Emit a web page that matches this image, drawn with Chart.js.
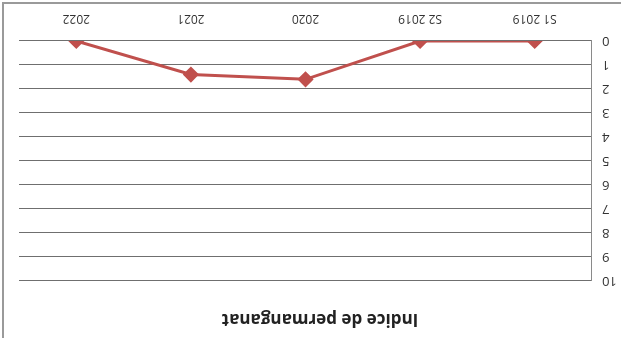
<!DOCTYPE html>
<html>
<head>
<meta charset="utf-8">
<script src="https://cdn.jsdelivr.net/npm/chart.js@4/dist/chart.umd.min.js"></script>
<style>
	html, body { margin: 0; padding: 0; background: #fff; }
	#wrap { position: relative; width: 621px; height: 338px; overflow: hidden; }
	/* the sheet is scanned upside down */
	#box { position: absolute; left: 0; top: 0; width: 621px; height: 338px; transform: rotate(180deg); }
	#frame { position: absolute; left: 2px; top: 2px; width: 619px; height: 336px;
		border-top: 2px solid #9a9a9a; border-left: 2px solid #9a9a9a; pointer-events: none; }
</style>
</head>
<body>
<div id="wrap">
	<div id="box"><canvas id="grafic" width="621" height="338"></canvas></div>
	<div id="frame"></div>
</div>
<script>
// Dades
const periodes = ["S1 2019", "S2 2019", "2020", "2021", "2022"];
const permanganat = [0, 0, 1.6, 1.4, 0];
const titol = "Indice de permanganat";

const FONT = "'Open Sans', 'Liberation Sans', sans-serif";

const ctx = document.getElementById("grafic").getContext("2d");
new Chart(ctx, {
	type: "line",
	data: {
		labels: periodes,
		datasets: [
			{
				data: permanganat,
				borderColor: "#c0504d",
				backgroundColor: "#c0504d",
				borderWidth: 3,
				pointStyle: "rectRot",
				pointRadius: 6,
				tension: 0
			}
		]
	},
	options: {
		responsive: false,
		animation: false,
		layout: { padding: { top: 0, right: 19, bottom: 0, left: 0 } },
		plugins: {
			legend: { display: false },
			tooltip: { enabled: false },
			title: {
				display: true,
				text: titol,
				color: "#222",
				font: { family: FONT, size: 17, weight: "bold", lineHeight: 1.2 },
				padding: { top: 9, bottom: 28 }
			}
		},
		scales: {
			x: {
				offset: true,
				grid: { display: false, drawTicks: false },
				border: { display: false },
				ticks: { color: "#333", font: { family: FONT, size: 12 }, padding: 15, maxRotation: 0 },
				afterFit: (s) => { s.height = 41; }
			},
			y: {
				min: 0,
				max: 10,
				ticks: { stepSize: 1, color: "#333", font: { family: FONT, size: 13 }, padding: 10 },
				grid: { color: "#6f6f6f", lineWidth: 1, drawTicks: false },
				border: { display: true, color: "#8a8a8a", width: 1 },
				afterFit: (s) => { s.width = 29; }
			}
		}
	}
});
</script>
</body>
</html>
